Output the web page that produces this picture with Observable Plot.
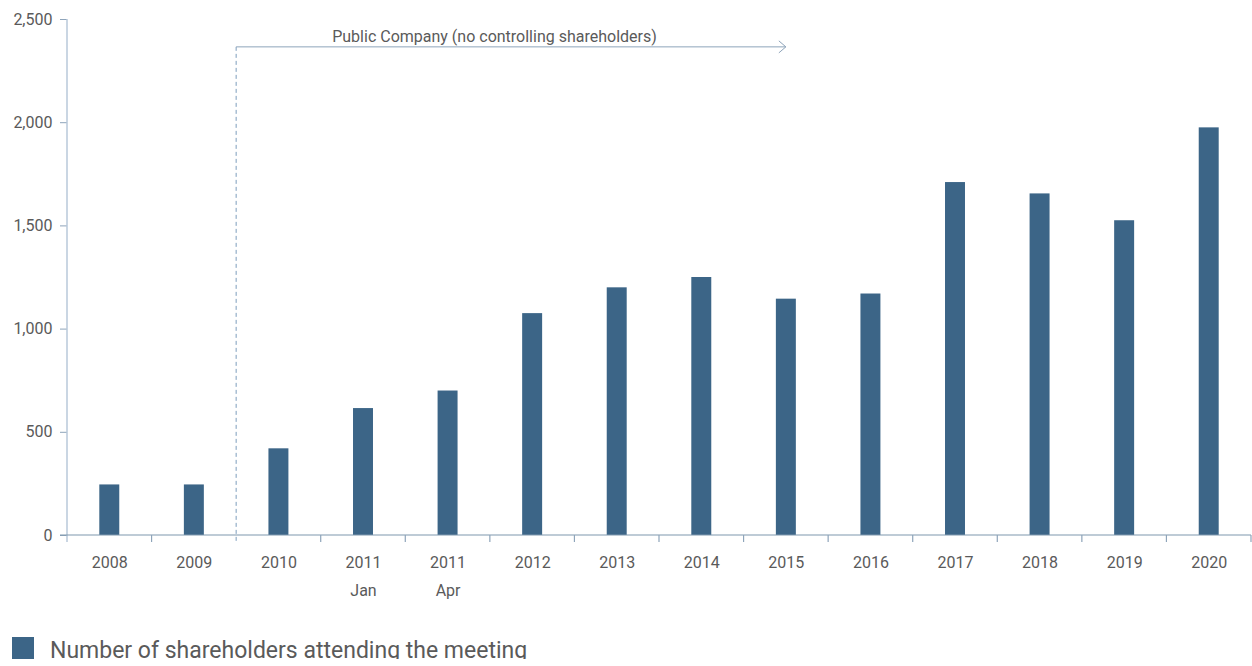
<!DOCTYPE html>
<html><head><meta charset="utf-8">
<script src="https://cdn.jsdelivr.net/npm/d3@7"></script>
<script src="https://cdn.jsdelivr.net/npm/@observablehq/plot@0.6"></script>
<style>
body{margin:0;background:#fff;font-family:Roboto,"Open Sans",sans-serif;}
#chart svg{display:block;}
#legend{display:flex;align-items:center;margin-left:12px;margin-top:37px;height:22px;}
#legend .sw{width:22px;height:22px;background:#3c6587;margin-right:16px;flex:none;}
#legend .lb{font-size:23px;color:#5a5a5a;line-height:22px;position:relative;top:3px;}
</style></head>
<body>
<div id="chart"></div>
<div id="legend"><span class="sw"></span><span class="lb" id="legendLabel"></span></div>
<script>
const categories = ["2008","2009","2010","2011 Jan","2011 Apr","2012","2013","2014","2015","2016","2017","2018","2019","2020"];
const tickLabels = ["2008","2009","2010","2011\nJan","2011\nApr","2012","2013","2014","2015","2016","2017","2018","2019","2020"];
const attendees = [245,245,420,615,700,1075,1200,1250,1145,1170,1710,1655,1525,1975];
const yTicks = [0,500,1000,1500,2000,2500];
const seriesName = "Number of shareholders attending the meeting";
const annotationText = "Public Company (no controlling shareholders)";
const annotationStart = "2010";
const annotationEnd = "2015";
const annotationLevel = 2365;

const data = categories.map((c,i)=>({cat:c, value:attendees[i]}));
const labelOf = new Map(categories.map((c,i)=>[c, tickLabels[i]]));

const barColor = "#3c6587";
const axisColor = "#8ea4ba";
const textColor = "#5a5a5a";

function decorations(index, scales, values, dimensions) {
  const x = scales.x, y = scales.y;
  const bw = x(categories[1]) - x(categories[0]);
  const {marginLeft, width, marginRight} = dimensions;
  const y0 = y(0), yTop = y(yTicks[yTicks.length-1]);
  const g = d3.create("svg:g");
  // y axis line
  g.append("line").attr("x1", marginLeft).attr("x2", marginLeft)
    .attr("y1", yTop).attr("y2", y0 + 7).attr("stroke", "#b9c9da").attr("stroke-width", 1.5);
  // x axis line
  g.append("line").attr("x1", marginLeft - 7).attr("x2", width - marginRight)
    .attr("y1", y0).attr("y2", y0).attr("stroke", "#7f97ae").attr("stroke-width", 1.2);
  // boundary ticks
  const bounds = categories.map(c => x(c)).concat([x(categories[categories.length-1]) + bw]);
  bounds.forEach((bx, i) => {
    if (i === 0 || categories[i] === annotationStart) return;
    g.append("line").attr("x1", bx).attr("x2", bx).attr("y1", y0).attr("y2", y0 + 7)
      .attr("stroke", axisColor).attr("stroke-width", 1.2);
  });
  // annotation
  const ax0 = x(annotationStart), ax1 = x(annotationEnd) + bw / 2, ay = y(annotationLevel);
  g.append("line").attr("x1", ax0).attr("x2", ax0).attr("y1", ay).attr("y2", y0 + 7)
    .attr("stroke", "#7d9dbd").attr("stroke-dasharray", "4,3").attr("stroke-width", 1);
  g.append("line").attr("x1", ax0).attr("x2", ax1).attr("y1", ay).attr("y2", ay)
    .attr("stroke", axisColor).attr("stroke-width", 1);
  g.append("path").attr("d", `M${ax1-7},${ay-6}L${ax1},${ay}L${ax1-7},${ay+6}`)
    .attr("fill", "none").attr("stroke", axisColor).attr("stroke-width", 1);
  g.append("text").attr("x", ax0 + (ax1 - ax0) * 0.47).attr("y", ay - 5)
    .attr("text-anchor", "middle").attr("fill", textColor)
    .attr("font-size", 16).attr("font-family", "Roboto, sans-serif")
    .text(annotationText);
  return g.node();
}

const chart = Plot.plot({
  width: 1252,
  height: 600,
  marginTop: 19,
  marginBottom: 65,
  marginLeft: 67,
  marginRight: 1,
  style: {fontFamily: "Roboto, sans-serif", background: "#fff"},
  x: {domain: categories, padding: 0, round: false, axis: null, label: null},
  y: {domain: [0, 2500], axis: null, label: null},
  marks: [
    Plot.barY(data, {x: "cat", y: "value", fill: barColor, insetLeft: 32.3, insetRight: 32.3}),
    Plot.axisX({tickSize: 0, tickPadding: 13, fontSize: 16, fill: textColor, lineHeight: 1.75,
      label: null, tickFormat: d => labelOf.get(d)}),
    Plot.axisY({ticks: yTicks, tickFormat: d3.format(","), tickSize: 7, tickPadding: 8,
      label: null, fontSize: 16, fill: textColor, stroke: axisColor}),
    decorations
  ]
});
document.getElementById("chart").appendChild(chart);
document.getElementById("legendLabel").textContent = seriesName;
</script>
</body></html>
